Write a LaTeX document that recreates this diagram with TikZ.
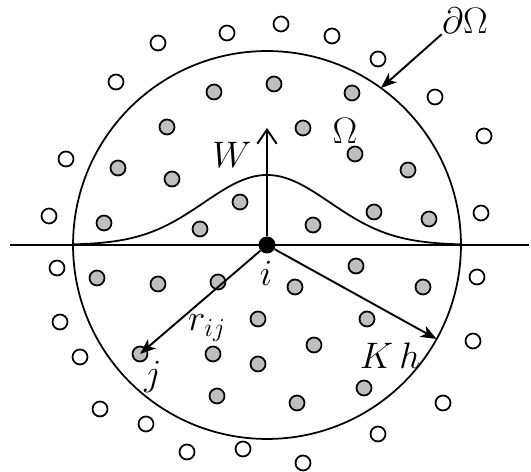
\RequirePackage{fix-cm}
\documentclass[tikz,border=0pt]{standalone}
\usepackage{amsmath}
\usetikzlibrary{arrows.meta}
\definecolor{dotgray}{gray}{0.75}
\tikzset{
  lbl/.style={font=\fontsize{21}{25}\selectfont, inner sep=0pt},
}

\begin{document}
\begin{tikzpicture}[
        x=0.02cm, y=-0.02cm,
        indot/.style={circle, draw=black, fill=dotgray, line width=1pt, minimum size=0.3cm, inner sep=0pt},
        outdot/.style={circle, draw=black, fill=white, line width=1pt, minimum size=0.3cm, inner sep=0pt},
        vec/.style={line width=1.1pt, -{Stealth[length=9pt, width=7pt, inset=2.5pt]}},
        warrow/.style={line width=1.1pt, -{Straight Barb[length=8pt, width=11pt, line width=1.1pt]}},
    ]
        \useasboundingbox (0,0) rectangle (531,472);

        % support domain and its boundary
        \node[circle, draw, line width=1pt, minimum size=7.76cm, inner sep=0pt, outer sep=0pt] (dom) at (267,245) {};

        % kernel W
        \draw[line width=1pt] plot[domain=73:461, samples=120, smooth] (\x, {245-70*exp(-0.5*((\x-267)/63)^2)});

        % axis
        \coordinate (axL) at (10,245);
        \coordinate (axR) at (529,245);
        \draw[line width=1.3pt] (axL) -- (axR);

        % particles inside
        \foreach \px/\py [count=\n] in {214/92, 274/84, 352/93, 167/127, 303/128, 355/154, 118/168, 172/179,
            408/170, 240/202, 374/212, 429/219, 104/223, 200/229, 313/225, 97/278, 158/284, 218/282,
            295/287, 356/266, 423/287, 258/319, 367/319, 213/354, 258/364, 314/345, 217/396, 364/388, 297/403}
            \node[indot] (in\n) at (\px,\py) {};
        \node[indot] (j) at (140,354) {};

        % particles outside
        \foreach \px/\py [count=\n] in {158/43, 227/33, 281/24, 332/36, 378/59, 116/82, 435/97, 484/136,
            66/159, 481/213, 49/216, 57/268, 477/277, 60/322, 473/341, 80/357, 443/403, 100/409,
            146/424, 378/434, 187/452, 243/449, 303/463}
            \node[outdot] (out\n) at (\px,\py) {};

        % particle i
        \node[circle, fill=black, minimum size=0.34cm, inner sep=0pt] (i) at (267,245) {};

        % labels
        \node[lbl] (Wlbl) at (232,155) {$W$};
        \node[lbl] (omega) at (345,131) {$\Omega$};
        \node[lbl] (bnd) at (465,21) {$\partial\Omega$};
        \node[lbl] (ilbl) at (266,273) {$i$};
        \node[lbl] (jlbl) at (153,377) {$j$};
        \node[lbl] (rlbl) at (207,328) {$r_{ij}$};
        \node[lbl] (Khlbl) at (390,356) {$K\,h$};

        % arrows
        \coordinate (wtip) at (267,128);
        \draw[warrow] (i) -- (wtip);
        \draw[vec] (i) -- (j.center);
        \draw[vec] (i) -- (dom.-29.5);
        \draw[vec] (bnd.south west) -- (dom.54);
    \end{tikzpicture}
\end{document}
